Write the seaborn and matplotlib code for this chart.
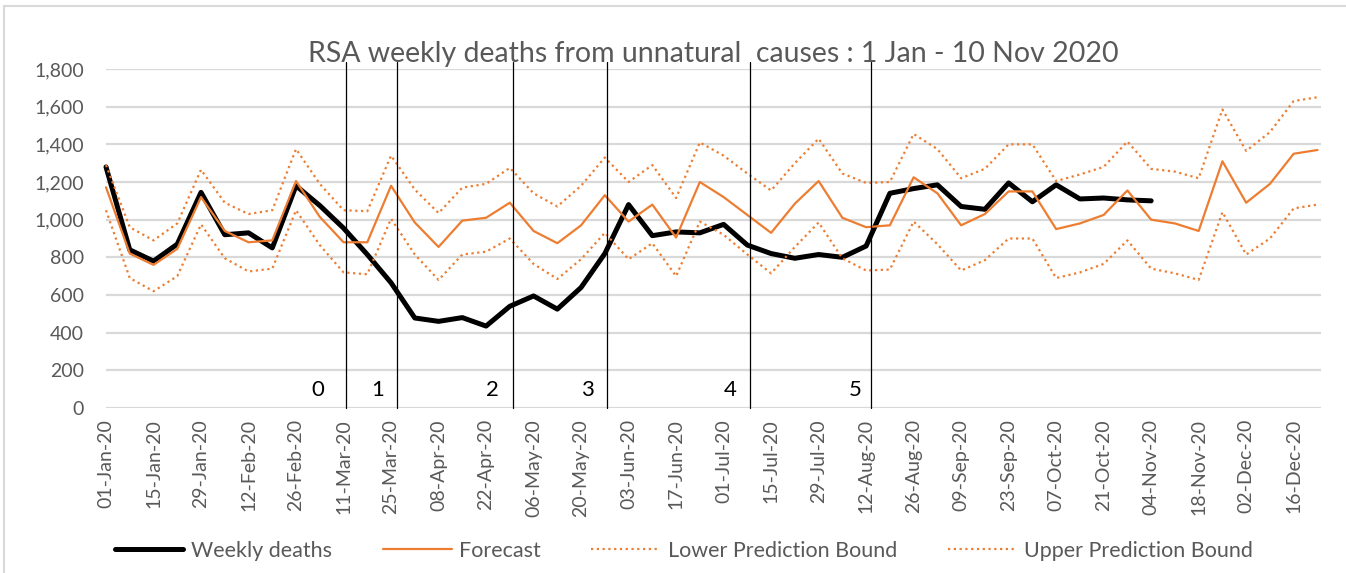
import numpy as np
import pandas as pd
import seaborn as sns
from matplotlib import pyplot as plt
from matplotlib.lines import Line2D

# weekly values (01-Jan-20 .. 23-Dec-20)
weekly_deaths = [1280, 840, 780, 870, 1145, 920, 930, 850, 1180, 1075,
                 955, 815, 665, 478, 460, 480, 435, 540, 595, 525,
                 640, 820, 1080, 915, 935, 930, 975, 865, 820, 795,
                 815, 800, 860, 1140, 1165, 1185, 1070, 1055, 1195, 1095,
                 1185, 1110, 1115, 1105, 1100]
forecast = [1172, 820, 760, 845, 1120, 940, 880, 890, 1205, 1015,
            880, 880, 1180, 985, 855, 995, 1010, 1090, 940, 875,
            970, 1130, 990, 1080, 905, 1200, 1120, 1025, 930, 1085,
            1205, 1010, 960, 970, 1225, 1140, 970, 1030, 1150, 1150,
            950, 980, 1025, 1155, 1000, 980, 940, 1310, 1090, 1190,
            1350, 1370]
lower_bound = [1050, 690, 620, 700, 975, 795, 725, 740, 1050, 865,
               720, 710, 1005, 815, 680, 815, 830, 900, 765, 685,
               790, 930, 790, 875, 700, 990, 920, 815, 715, 855,
               985, 795, 730, 735, 990, 870, 730, 785, 900, 900,
               690, 720, 765, 890, 740, 715, 680, 1040, 815, 900,
               1060, 1080]
upper_bound = [1290, 960, 890, 980, 1265, 1090, 1030, 1050, 1375, 1190,
               1050, 1045, 1340, 1160, 1035, 1170, 1190, 1275, 1140, 1070,
               1180, 1330, 1200, 1290, 1115, 1410, 1340, 1245, 1155, 1300,
               1430, 1245, 1195, 1200, 1455, 1375, 1220, 1270, 1400, 1400,
               1205, 1240, 1280, 1415, 1270, 1255, 1220, 1585, 1365, 1465,
               1630, 1650]
weeks = pd.date_range('2020-01-01', periods=52, freq='7D')
tick_labels = [d.strftime('%d-%b-%y') for d in weeks[::2]]

# period boundaries (in weeks) and the period numbers
boundaries = [10.1, 12.25, 17.15, 21.1, 27.1, 32.2]
period_names = ['0', '1', '2', '3', '4', '5']
period_x = [8.93, 11.45, 16.25, 20.25, 26.27, 31.54]

orange = '#ED7D31'
grey_text = '#595959'

sns.set_style('white')
plt.rcParams['font.family'] = ['Lato', 'DejaVu Sans']

df = pd.DataFrame({'week': np.arange(52), 'forecast': forecast,
                   'lower': lower_bound, 'upper': upper_bound})
df['deaths'] = pd.Series(weekly_deaths)

fig = plt.figure(figsize=(13.46, 5.73), dpi=100)
ax = fig.add_axes([106/1346, 1-408/573, (1321-106)/1346, (408-69)/573])

ax.yaxis.grid(True, color='#d9d9d9', lw=1.6)
ax.set_axisbelow(True)

sns.lineplot(data=df, x='week', y='deaths', color='black', lw=3.6,
             label='Weekly deaths', ax=ax, clip_on=False)
sns.lineplot(data=df, x='week', y='forecast', color=orange, lw=1.6,
             label='Forecast', ax=ax, clip_on=False)
sns.lineplot(data=df, x='week', y='lower', color=orange, lw=1.6, ls=(0, (1, 1.6)),
             label='Lower Prediction Bound', ax=ax, clip_on=False)
sns.lineplot(data=df, x='week', y='upper', color=orange, lw=1.6, ls=(0, (1, 1.6)),
             label='Upper Prediction Bound', ax=ax, clip_on=False)

for b in boundaries:
    ax.axvline(b, ymin=0, ymax=1.02, color='black', lw=0.9, clip_on=False)
for name, px in zip(period_names, period_x):
    ax.text(px, 95, name, ha='center', va='center', fontsize=16, color='black')

ax.set_xlim(0, 51.15)
ax.set_ylim(0, 1800)
ax.set_yticks(range(0, 1801, 200))
ax.set_yticklabels([f'{v:,}' for v in range(0, 1801, 200)])
ax.set_xticks(np.arange(0, 52, 2))
ax.set_xticklabels(tick_labels, rotation=90)
ax.tick_params(axis='both', labelsize=14, colors=grey_text, length=0)
ax.tick_params(axis='y', pad=16)
ax.tick_params(axis='x', pad=8)
ax.set_xlabel('')
ax.set_ylabel('')
for s in ax.spines.values():
    s.set_visible(False)

ax.set_title('RSA weekly deaths from unnatural  causes : 1 Jan - 10 Nov 2020',
             fontsize=20.5, color=grey_text, pad=5)

handles, labels = ax.get_legend_handles_labels()
ax.get_legend().remove()
fig.legend(handles, labels, loc='lower center', bbox_to_anchor=(0.508, -0.012),
           ncol=4, frameon=False, fontsize=15.5, handlelength=3.2,
           handletextpad=0.35, columnspacing=2.35, labelcolor=grey_text)

# light chart border
fig.add_artist(Line2D([4/1346, 4/1346], [0, 1-6/573], color='#d9d9d9', lw=1.5))
fig.add_artist(Line2D([4/1346, 1], [1-6/573, 1-6/573], color='#d9d9d9', lw=1.5))

fig.savefig('out.png', dpi=100)
